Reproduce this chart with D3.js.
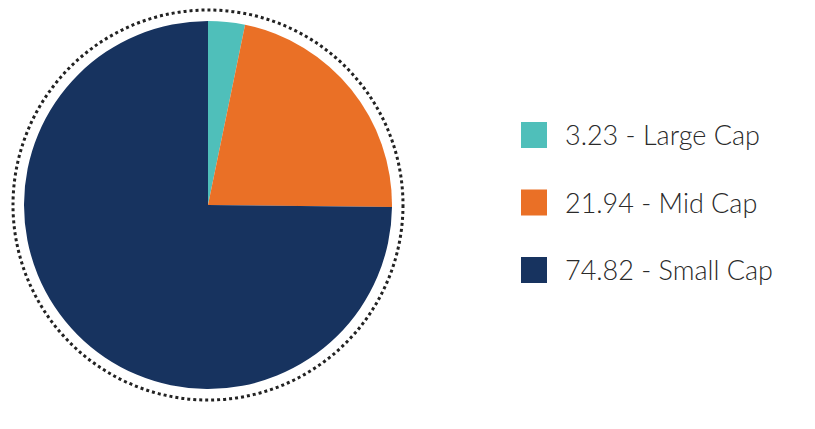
<!DOCTYPE html>
<html><head><meta charset="utf-8">
<script src="https://cdn.jsdelivr.net/npm/d3@7"></script>
<style>body{margin:0;background:#fff}</style>
</head><body>
<svg id="chart" width="815" height="429"></svg>
<script>
const categories = ['Large Cap', 'Mid Cap', 'Small Cap'];
const values = [3.23, 21.94, 74.82];
const colors = ['#4fbfba', '#ea7026', '#17335f'];

const svg = d3.select('#chart');
const cx = 208, cy = 205, r = 184;

const pie = d3.pie().sort(null);
const arc = d3.arc().innerRadius(0).outerRadius(r);

const g = svg.append('g').attr('transform', `translate(${cx},${cy})`);
g.selectAll('path')
  .data(pie(values))
  .join('path')
  .attr('d', arc)
  .attr('fill', (d, i) => colors[i]);

g.append('circle')
  .attr('r', 195)
  .attr('fill', 'none')
  .attr('stroke', '#222')
  .attr('stroke-width', 3)
  .attr('stroke-dasharray', '3 3');

const y = d3.scaleBand().domain(categories).range([122, 284]).paddingInner(0.6);
const leg = svg.selectAll('g.leg')
  .data(categories)
  .join('g')
  .attr('transform', d => `translate(521,${y(d)})`);
leg.append('rect')
  .attr('width', 26).attr('height', 26)
  .attr('fill', (d, i) => colors[i]);
leg.append('text')
  .attr('x', 44).attr('y', 23)
  .attr('font-family', 'Lato, sans-serif')
  .attr('font-weight', 300)
  .attr('font-size', 27)
  .attr('fill', '#2a2a2a')
  .text((d, i) => `${values[i].toFixed(2)} - ${d}`);
</script>
</body></html>
